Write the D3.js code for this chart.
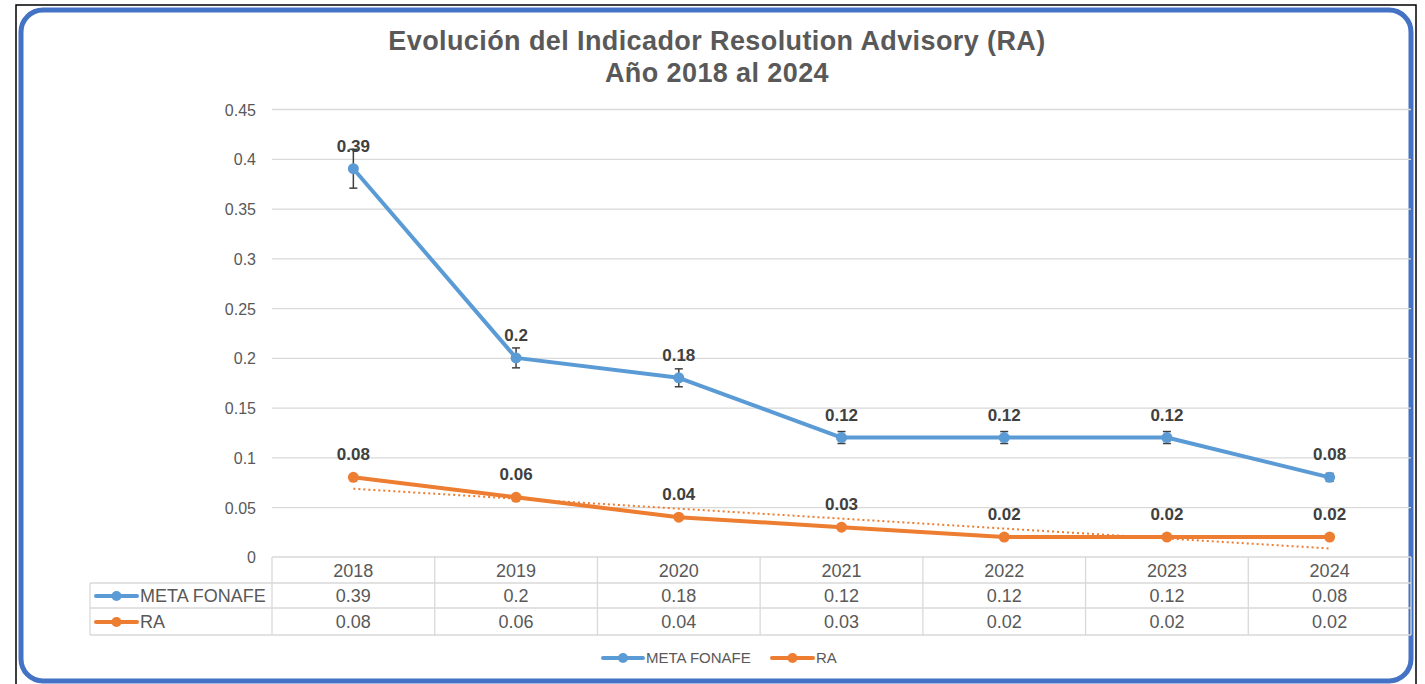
<!DOCTYPE html>
<html>
<head>
<meta charset="utf-8">
<script src="https://d3js.org/d3.v7.min.js"></script>
<style>
  body { margin: 0; background: #fff; }
  svg { display: block; font-family: "Liberation Sans", Arial, sans-serif; }
</style>
</head>
<body>
<div id="chart"></div>
<script>
// chart data
const years = ["2018", "2019", "2020", "2021", "2022", "2023", "2024"];
const metaFonafe = [0.39, 0.2, 0.18, 0.12, 0.12, 0.12, 0.08];
const ra = [0.08, 0.06, 0.04, 0.03, 0.02, 0.02, 0.02];
const yTicks = [0, 0.05, 0.1, 0.15, 0.2, 0.25, 0.3, 0.35, 0.4, 0.45];
const errorPct = 0.05; // error bars on META FONAFE: +/- 5%

const W = 1425, H = 684;
const blue = "#5B9BD5", orange = "#ED7D31", txt = "#595959", grid = "#D9D9D9";

const svg = d3.select("#chart").append("svg")
  .attr("width", W).attr("height", H);

// frame
svg.append("rect").attr("x", 16).attr("y", 5).attr("width", 1400).attr("height", 700)
  .attr("fill", "none").attr("stroke", "#000").attr("stroke-width", 1.5);
svg.append("rect").attr("x", 21).attr("y", 10).attr("width", 1390).attr("height", 671)
  .attr("rx", 22).attr("fill", "#fff").attr("stroke", "#4472C4").attr("stroke-width", 5);

// title
const title = svg.append("text").attr("text-anchor", "middle")
  .attr("fill", txt).attr("font-weight", "bold").attr("font-size", 27)
  .attr("letter-spacing", 0.4);
title.append("tspan").attr("x", 717).attr("y", 50).text("Evolución del Indicador Resolution Advisory (RA)");
title.append("tspan").attr("x", 717).attr("y", 82).text("Año 2018 al 2024");

// scales
const x = d3.scaleBand().domain(years).range([272, 1411]);
const y = d3.scaleLinear().domain([0, 0.45]).range([557, 109]);
const cx = d => x(d) + x.bandwidth() / 2;

// gridlines + y labels
svg.append("g")
  .attr("transform", "translate(272,0)")
  .call(d3.axisLeft(y).tickValues(yTicks.filter(v => v > 0)).tickSize(-(1411 - 272)).tickFormat(d => d))
  .call(g => g.select(".domain").remove())
  .call(g => g.selectAll(".tick line").attr("stroke", grid).attr("stroke-width", 1.3))
  .call(g => g.selectAll(".tick text").attr("x", -16).attr("dy", "0.38em").attr("fill", txt)
    .attr("font-size", 16).attr("font-family", "Liberation Sans, Arial, sans-serif"));
svg.append("text").attr("x", 256).attr("y", 563).attr("text-anchor", "end")
  .attr("fill", txt).attr("font-size", 16).text(yTicks[0]);

// data table
const rowY = [557, 583, 608, 635];
const tbl = svg.append("g").attr("stroke", grid).attr("stroke-width", 1.3);
tbl.append("line").attr("x1", 272).attr("x2", 1411).attr("y1", rowY[0]).attr("y2", rowY[0]);
[1, 2, 3].forEach(i => tbl.append("line").attr("x1", 90).attr("x2", 1411).attr("y1", rowY[i]).attr("y2", rowY[i]));
tbl.append("line").attr("x1", 90).attr("x2", 90).attr("y1", rowY[1]).attr("y2", rowY[3]);
years.forEach(yr => tbl.append("line").attr("x1", x(yr)).attr("x2", x(yr)).attr("y1", rowY[0]).attr("y2", rowY[3]));
tbl.append("line").attr("x1", 1411).attr("x2", 1411).attr("y1", rowY[0]).attr("y2", rowY[3]);

const cellText = (xx, yy, s) => svg.append("text").attr("x", xx).attr("y", yy)
  .attr("text-anchor", "middle").attr("fill", txt).attr("font-size", 18).text(s);
years.forEach((yr, i) => {
  cellText(cx(yr), 577, yr);
  cellText(cx(yr), 602, metaFonafe[i]);
  cellText(cx(yr), 628, ra[i]);
});

function legendKey(x0, yy, color, label, len, fs) {
  svg.append("line").attr("x1", x0).attr("x2", x0 + len).attr("y1", yy).attr("y2", yy)
    .attr("stroke", color).attr("stroke-width", 4).attr("stroke-linecap", "round");
  svg.append("circle").attr("cx", x0 + len / 2).attr("cy", yy).attr("r", 5).attr("fill", color);
  svg.append("text").attr("x", x0 + len + 3).attr("y", yy + fs * 0.36).attr("fill", txt)
    .attr("font-size", fs).text(label);
}
legendKey(96, 596, blue, "META FONAFE", 41, 18);
legendKey(96, 622, orange, "RA", 41, 18);

// trendline for RA (linear least squares)
const n = ra.length, mx = (n + 1) / 2, my = d3.mean(ra);
const slope = d3.sum(ra, (v, i) => (i + 1 - mx) * (v - my)) / d3.sum(ra, (v, i) => (i + 1 - mx) ** 2);
const trend = ra.map((v, i) => my + slope * (i + 1 - mx));
svg.append("path").datum(trend)
  .attr("fill", "none").attr("stroke", orange).attr("stroke-width", 2)
  .attr("stroke-dasharray", "2,3")
  .attr("d", d3.line().x((d, i) => cx(years[i])).y(d => y(d)));

// series lines
const line = d3.line().x((d, i) => cx(years[i])).y(d => y(d));
[[ra, orange], [metaFonafe, blue]].forEach(([vals, color]) => {
  svg.append("path").datum(vals).attr("fill", "none").attr("stroke", color)
    .attr("stroke-width", 4).attr("stroke-linejoin", "round").attr("d", line);
});

// error bars
const eb = svg.append("g").attr("stroke", "#404040").attr("stroke-width", 1.5);
metaFonafe.forEach((v, i) => {
  const xx = cx(years[i]), lo = y(v * (1 - errorPct)), hi = y(v * (1 + errorPct));
  eb.append("line").attr("x1", xx).attr("x2", xx).attr("y1", lo).attr("y2", hi);
  eb.append("line").attr("x1", xx - 4).attr("x2", xx + 4).attr("y1", lo).attr("y2", lo);
  eb.append("line").attr("x1", xx - 4).attr("x2", xx + 4).attr("y1", hi).attr("y2", hi);
});

// markers + labels
[[ra, orange], [metaFonafe, blue]].forEach(([vals, color]) => {
  svg.append("g").selectAll("circle").data(vals).join("circle")
    .attr("cx", (d, i) => cx(years[i])).attr("cy", d => y(d)).attr("r", 5.5).attr("fill", color);
  svg.append("g").selectAll("text").data(vals).join("text")
    .attr("x", (d, i) => cx(years[i])).attr("y", d => y(d) - 17)
    .attr("text-anchor", "middle").attr("font-weight", "bold").attr("font-size", 17)
    .attr("fill", "#404040").text(d => d);
});

// bottom legend
legendKey(603, 658, blue, "META FONAFE", 40, 15);
legendKey(772, 658, orange, "RA", 41, 15);
</script>
</body>
</html>
